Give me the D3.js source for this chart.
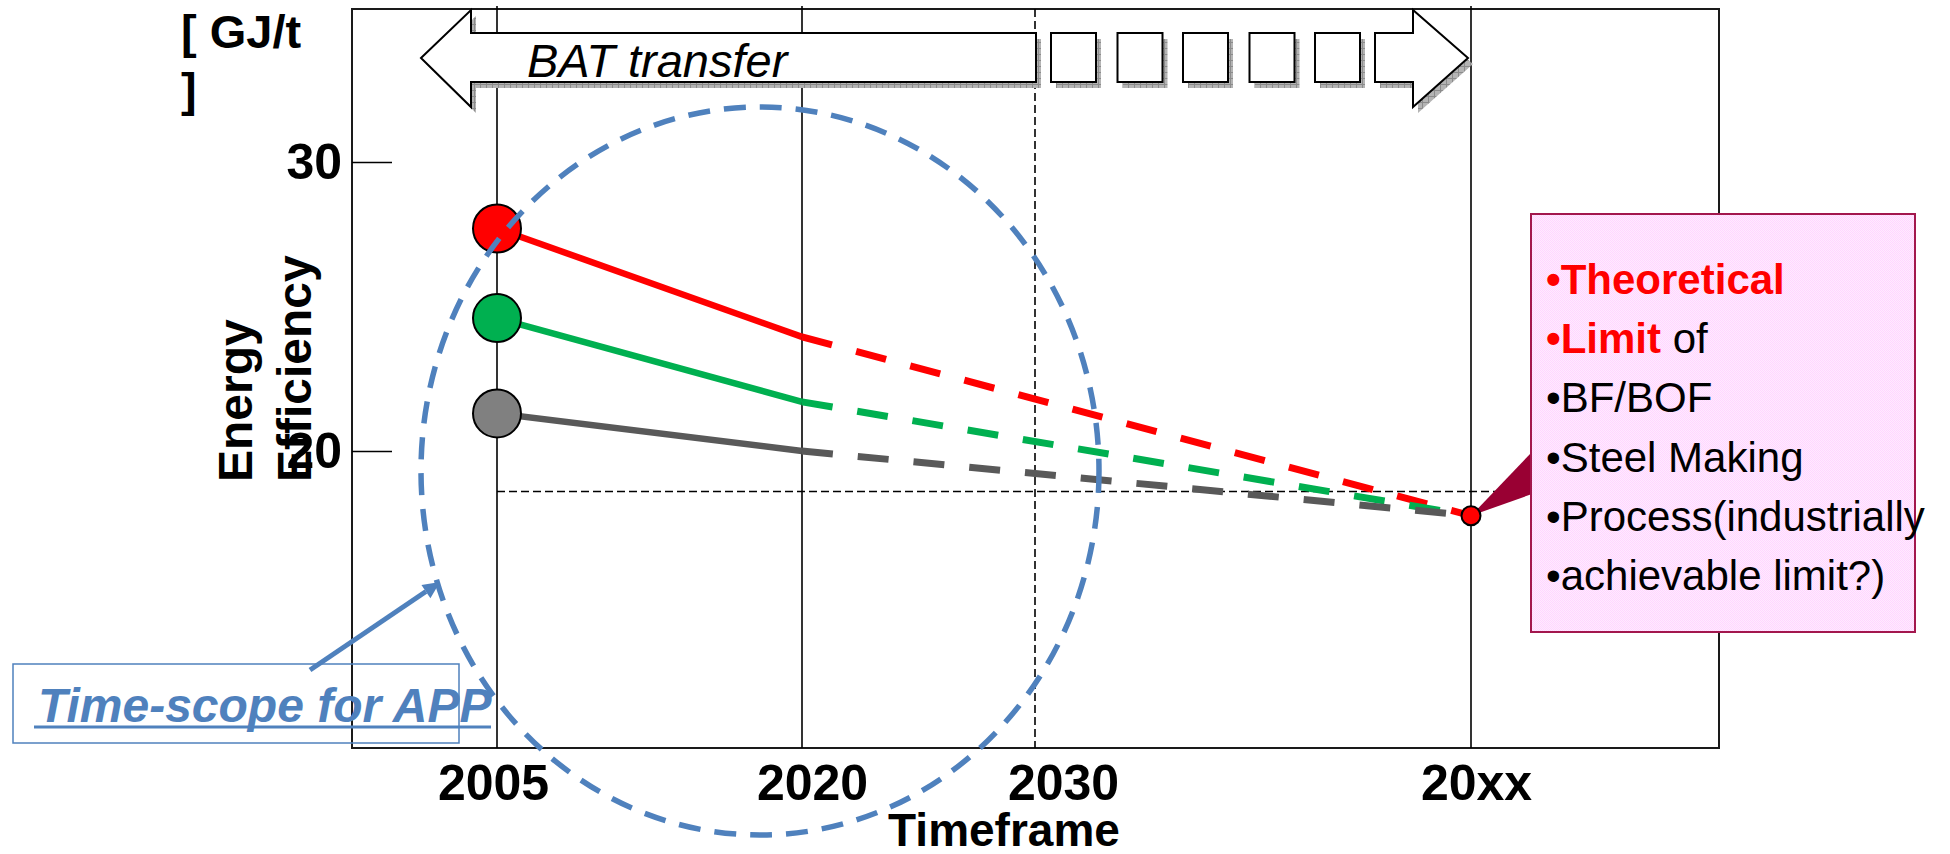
<!DOCTYPE html>
<html>
<head>
<meta charset="utf-8">
<script src="https://cdn.jsdelivr.net/npm/d3@7"></script>
<style>
  html, body { margin: 0; padding: 0; background: #fff; }
  svg { display: block; }
  text { font-family: "Liberation Sans", Arial, Helvetica, sans-serif; }
</style>
</head>
<body>
<svg id="chart" width="1950" height="854"></svg>
<script>
// ---- data ----
const categories = ["2005", "2020", "2030", "20xx"];
const yTicks = [20, 30];
const seriesPeriods = ["2005", "2020", "20xx"];
const redValues   = [27.7, 23.95, 17.76];
const greenValues = [24.6, 21.7, 17.76];
const grayValues  = [21.3, 20.0, 17.76];
const limitValue = 17.76;
const referenceLevel = 18.6;
const unitLines = ["[ GJ/t", "]"];
const yTitleLines = ["Energy", "Efficiency"];
const xTitle = "Timeframe";
const transferLabel = "BAT transfer";
const scopeLabel = "Time-scope for APP";
const calloutLines = [
  [{t: "\u2022Theoretical", c: "#ff0000", b: true}],
  [{t: "\u2022Limit", c: "#ff0000", b: true}, {t: " of", c: "#000", b: false}],
  [{t: "\u2022BF/BOF", c: "#000", b: false}],
  [{t: "\u2022Steel Making", c: "#000", b: false}],
  [{t: "\u2022Process(industrially", c: "#000", b: false}],
  [{t: "\u2022achievable limit?)", c: "#000", b: false}]
];

// ---- layout ----
const svg = d3.select("#chart");
const frame = {left: 352, top: 9, right: 1719, bottom: 748};

const x = d3.scaleOrdinal().domain(categories).range([497, 802, 1035, 1471]);
const y = d3.scaleLinear().domain([20, 30]).range([451, 162]);

const seriesList = [
  {values: redValues,   line: "#ff0000", fill: "#ff0000"},
  {values: greenValues, line: "#00b050", fill: "#00b050"},
  {values: grayValues,  line: "#595959", fill: "#808080"}
];

// textures for the drop shadows and the callout fill
const defs = svg.append("defs");
const shade = defs.append("pattern")
  .attr("id", "shade").attr("patternUnits", "userSpaceOnUse")
  .attr("width", 6).attr("height", 6);
shade.append("rect").attr("width", 6).attr("height", 6).attr("fill", "#b4b4b4");
shade.append("path").attr("d", "M0,0.5H6M0.5,0V6").attr("stroke", "#8c8c8c").attr("stroke-width", 1);
const pink = defs.append("pattern")
  .attr("id", "pink").attr("patternUnits", "userSpaceOnUse")
  .attr("width", 2).attr("height", 2);
pink.append("rect").attr("width", 2).attr("height", 2).attr("fill", "#ffeaff");
pink.append("rect").attr("width", 1).attr("height", 1).attr("fill", "#ffd6ff");
pink.append("rect").attr("x", 1).attr("y", 1).attr("width", 1).attr("height", 1).attr("fill", "#ffd6ff");

// plot frame
svg.append("rect")
  .attr("x", frame.left).attr("y", frame.top)
  .attr("width", frame.right - frame.left)
  .attr("height", frame.bottom - frame.top)
  .attr("fill", "none").attr("stroke", "#1a1a1a").attr("stroke-width", 2);

// vertical time markers
svg.append("g").selectAll("line")
  .data(categories)
  .join("line")
  .attr("x1", d => x(d)).attr("x2", d => x(d))
  .attr("y1", d => d === "2030" ? frame.top : frame.top - 3)
  .attr("y2", frame.bottom)
  .attr("stroke", "#000")
  .attr("stroke-width", 1.6)
  .attr("stroke-dasharray", d => d === "2030" ? "8,4" : null);

// reference level across to the limit
const calloutBox = {x: 1531, y: 214, w: 384, h: 418};
svg.append("line")
  .attr("x1", x("2005")).attr("x2", calloutBox.x)
  .attr("y1", y(referenceLevel)).attr("y2", y(referenceLevel))
  .attr("stroke", "#000").attr("stroke-width", 1.6)
  .attr("stroke-dasharray", "8,4");

// y axis (inward ticks)
const yAxis = svg.append("g")
  .attr("transform", `translate(${frame.left},0)`)
  .call(d3.axisLeft(y).tickValues(yTicks).tickSize(-40).tickPadding(10).tickFormat(d3.format("d")));
yAxis.select(".domain").remove();
yAxis.selectAll(".tick line").attr("stroke", "#000").attr("stroke-width", 1.6);
yAxis.selectAll(".tick text")
  .attr("fill", "#000").attr("font-size", 50).attr("font-weight", "bold")
  .attr("font-family", "Liberation Sans, Arial, sans-serif");

// x axis labels
const labelShift = {"2005": -4, "2020": 10, "2030": 28, "20xx": 5};
const xAxis = svg.append("g")
  .attr("transform", `translate(0,${frame.bottom})`)
  .call(d3.axisBottom(x).tickSize(0).tickPadding(16));
xAxis.select(".domain").remove();
xAxis.selectAll(".tick text")
  .attr("fill", "#000").attr("font-size", 50).attr("font-weight", "bold")
  .attr("font-family", "Liberation Sans, Arial, sans-serif")
  .attr("dx", d => labelShift[d]);

svg.append("text")
  .attr("x", 1004).attr("y", 846)
  .attr("text-anchor", "middle")
  .attr("font-size", 46).attr("font-weight", "bold")
  .text(xTitle);

// y title, rotated
const yTitle = svg.append("text")
  .attr("transform", "rotate(-90)")
  .attr("font-size", 48).attr("font-weight", "bold");
yTitleLines.forEach((t, i) => {
  yTitle.append("tspan").attr("x", -482).attr("y", 252 + i * 59).text(t);
});

// unit label
unitLines.forEach((t, i) => {
  svg.append("text")
    .attr("x", 181).attr("y", 48 + i * 58)
    .attr("font-size", 47).attr("font-weight", "bold")
    .attr("xml:space", "preserve")
    .text(t);
});

// ---- top transfer arrows ----
const shadow = {dx: 5, dy: 6};
const shaftTop = 33, shaftBot = 82, headTop = 10, headBot = 107, mid = 58;
const leftTip = 421, leftHeadBack = 471, shaftEnd = x("2030") + 1;
const rightTip = x("20xx") - 3, rightHeadBack = 1413, rightShaftStart = 1375;
const leftArrow = [[leftTip, mid], [leftHeadBack, headTop], [leftHeadBack, shaftTop],
  [shaftEnd, shaftTop], [shaftEnd, shaftBot], [leftHeadBack, shaftBot], [leftHeadBack, headBot]];
const rightArrow = [[rightShaftStart, shaftTop], [rightHeadBack, shaftTop], [rightHeadBack, headTop],
  [rightTip, mid], [rightHeadBack, headBot], [rightHeadBack, shaftBot], [rightShaftStart, shaftBot]];
const boxStarts = [1051, 1117.5, 1183, 1249.5, 1315];
const boxW = 45;

const arrows = svg.append("g");
const poly = pts => "M" + pts.map(p => p.join(",")).join("L") + "Z";
// shadows first
[leftArrow, rightArrow].forEach(pts => {
  arrows.append("path")
    .attr("d", poly(pts.map(p => [p[0] + shadow.dx, p[1] + shadow.dy])))
    .attr("fill", "url(#shade)");
});
boxStarts.forEach(bx => {
  arrows.append("rect")
    .attr("x", bx + shadow.dx).attr("y", shaftTop + shadow.dy)
    .attr("width", boxW).attr("height", shaftBot - shaftTop)
    .attr("fill", "url(#shade)");
});
[leftArrow, rightArrow].forEach(pts => {
  arrows.append("path")
    .attr("d", poly(pts))
    .attr("fill", "#fff").attr("stroke", "#000").attr("stroke-width", 2)
    .attr("stroke-linejoin", "miter");
});
boxStarts.forEach(bx => {
  arrows.append("rect")
    .attr("x", bx).attr("y", shaftTop)
    .attr("width", boxW).attr("height", shaftBot - shaftTop)
    .attr("fill", "#fff").attr("stroke", "#000").attr("stroke-width", 2);
});
svg.append("text")
  .attr("x", 527).attr("y", 77)
  .attr("font-size", 47).attr("font-style", "italic")
  .text(transferLabel);

// ---- series ----
const line = d3.line().x(d => x(d.period)).y(d => y(d.value));
seriesList.forEach(s => {
  const pts = s.values.map((v, i) => ({period: seriesPeriods[i], value: v}));
  svg.append("path")
    .attr("d", line(pts.slice(0, 2)))
    .attr("fill", "none").attr("stroke", s.line).attr("stroke-width", 6.5);
  svg.append("path")
    .attr("d", line(pts.slice(1)))
    .attr("fill", "none").attr("stroke", s.line).attr("stroke-width", 7)
    .attr("stroke-dasharray", "31,25");
});

// callout pointer
const limitPt = [x("20xx"), y(limitValue)];
svg.append("path")
  .attr("d", poly([limitPt, [calloutBox.x + 1, 452], [calloutBox.x + 1, 494]]))
  .attr("fill", "#990033");

// start circles
svg.append("g").selectAll("circle")
  .data(seriesList)
  .join("circle")
  .attr("cx", x(seriesPeriods[0]))
  .attr("cy", d => y(d.values[0]))
  .attr("r", 24)
  .attr("fill", d => d.fill)
  .attr("stroke", "#000").attr("stroke-width", 2);

// limit point
svg.append("circle")
  .attr("cx", limitPt[0]).attr("cy", limitPt[1]).attr("r", 9.5)
  .attr("fill", "#ff0000").attr("stroke", "#000").attr("stroke-width", 2);

// time-scope ellipse
svg.append("ellipse")
  .attr("cx", 760).attr("cy", 471).attr("rx", 339).attr("ry", 364)
  .attr("fill", "none").attr("stroke", "#4f81bd").attr("stroke-width", 5.5)
  .attr("stroke-dasharray", "22,14");

// callout box
svg.append("rect")
  .attr("x", calloutBox.x).attr("y", calloutBox.y)
  .attr("width", calloutBox.w).attr("height", calloutBox.h)
  .attr("fill", "url(#pink)").attr("stroke", "#a3174d").attr("stroke-width", 2);
calloutLines.forEach((parts, i) => {
  const t = svg.append("text")
    .attr("x", 1546).attr("y", 294 + i * 59.2)
    .attr("font-size", 42).attr("xml:space", "preserve");
  parts.forEach(p => {
    t.append("tspan")
      .attr("fill", p.c)
      .attr("font-weight", p.b ? "bold" : "normal")
      .text(p.t);
  });
});

// time-scope label with pointer arrow
const scopeBlue = "#4f81bd";
svg.append("rect")
  .attr("x", 13).attr("y", 664).attr("width", 446).attr("height", 79)
  .attr("fill", "none").attr("stroke", scopeBlue).attr("stroke-width", 1.5);
svg.append("text")
  .attr("x", 38).attr("y", 722)
  .attr("font-size", 48).attr("font-weight", "bold").attr("font-style", "italic")
  .attr("fill", scopeBlue)
  .text(scopeLabel);
svg.append("line")
  .attr("x1", 34).attr("x2", 491).attr("y1", 727).attr("y2", 727)
  .attr("stroke", scopeBlue).attr("stroke-width", 3);

const aFrom = [310, 670], aTo = [440, 582];
const len = Math.hypot(aTo[0] - aFrom[0], aTo[1] - aFrom[1]);
const ux = (aTo[0] - aFrom[0]) / len, uy = (aTo[1] - aFrom[1]) / len;
const headLen = 17, headHalf = 8;
const base = [aTo[0] - ux * headLen, aTo[1] - uy * headLen];
svg.append("line")
  .attr("x1", aFrom[0]).attr("y1", aFrom[1]).attr("x2", base[0]).attr("y2", base[1])
  .attr("stroke", scopeBlue).attr("stroke-width", 5);
svg.append("path")
  .attr("d", poly([aTo, [base[0] - uy * headHalf, base[1] + ux * headHalf],
                        [base[0] + uy * headHalf, base[1] - ux * headHalf]]))
  .attr("fill", scopeBlue);
</script>
</body>
</html>
